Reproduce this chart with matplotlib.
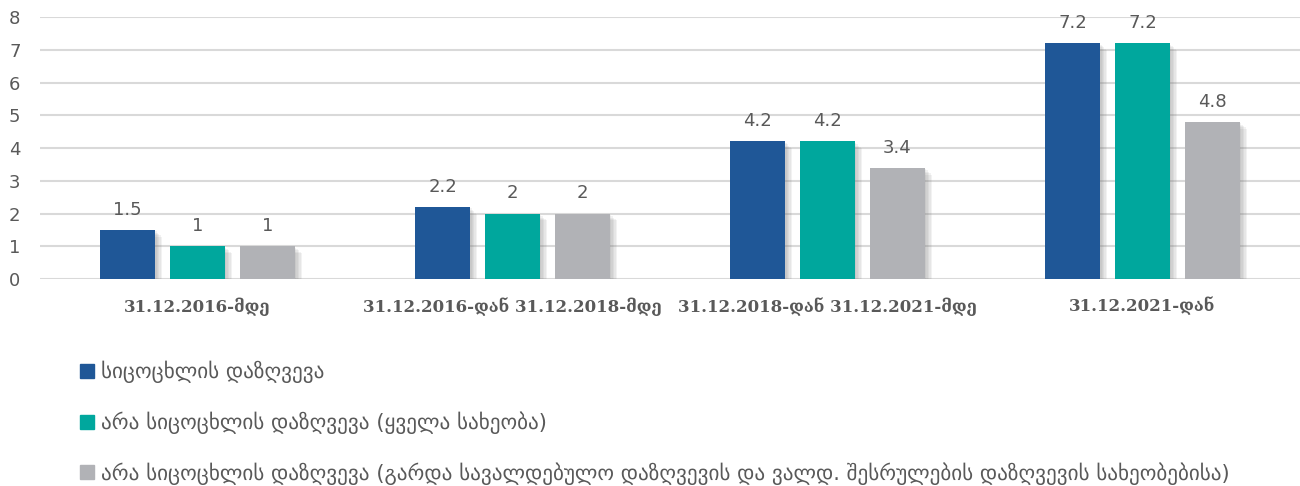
import numpy as np
import matplotlib
matplotlib.use("Agg")
import matplotlib.pyplot as plt
import matplotlib.patheffects as pe
from matplotlib.patches import Patch

# data
cats = ["31.12.2016-მდე", "31.12.2016-დან 31.12.2018-მდე",
        "31.12.2018-დან 31.12.2021-მდე", "31.12.2021-დან"]
s1 = [1.5, 2.2, 4.2, 7.2]
s2 = [1, 2, 4.2, 7.2]
s3 = [1, 2, 3.4, 4.8]
names = ["სიცოცხლის დაზღვევა",
         "არა სიცოცხლის დაზღვევა (ყველა სახეობა)",
         "არა სიცოცხლის დაზღვევა (გარდა სავალდებულო დაზღვევის და ვალდ. შესრულების დაზღვევის სახეობებისა)"]
colors = ["#1F5797", "#00A79D", "#B1B2B6"]
txt = "#595959"

fig = plt.figure(figsize=(13, 4.86), dpi=100)
ax = fig.add_axes([40/1300, 207/486, 1260/1300, 262/486])

x = np.arange(len(cats))
w = 0.175
step = 0.222
# soft drop shadow, stacked layers
shadow = [pe.SimplePatchShadow(offset=(d, -d), shadow_rgbFace="#777777", alpha=0.09)
          for d in (1, 2, 3, 4, 5)] + [pe.Normal()]
for i, (vals, c) in enumerate(zip([s1, s2, s3], colors)):
    bars = ax.bar(x + (i-1)*step, vals, w, color=c, zorder=3)
    for b in bars:
        b.set_path_effects(shadow)
    for xi, v in zip(x + (i-1)*step, vals):
        ax.annotate(f"{v:g}", (xi, v), xytext=(0, 8), textcoords="offset points",
                    ha="center", va="bottom", fontsize=13, color=txt, family="DejaVu Sans")

ax.set_xlim(-0.5, 3.5)
ax.set_ylim(0, 8)
ax.set_yticks(range(0, 9))
ax.yaxis.grid(True, color="#D9D9D9", lw=1.5, zorder=0)
ax.set_axisbelow(True)
for s in ax.spines.values():
    s.set_visible(False)
ax.tick_params(axis="both", length=0, colors=txt, labelsize=13)
ax.tick_params(axis="y", pad=14)
ax.set_xticks(x)
ax.set_xticklabels(cats, family="DejaVu Serif", fontweight="bold", fontsize=12, color=txt)
ax.tick_params(axis="x", pad=13)

handles = [Patch(color=c) for c in colors]
fig.legend(handles, names, loc="upper left", bbox_to_anchor=(80/1300, 1 - 361/486), frameon=False,
           fontsize=15.2, labelcolor=txt, handlelength=0.65, handleheight=0.65,
           handletextpad=0.35, labelspacing=1.33, borderaxespad=0, borderpad=0)

fig.savefig("out.png", dpi=100)
